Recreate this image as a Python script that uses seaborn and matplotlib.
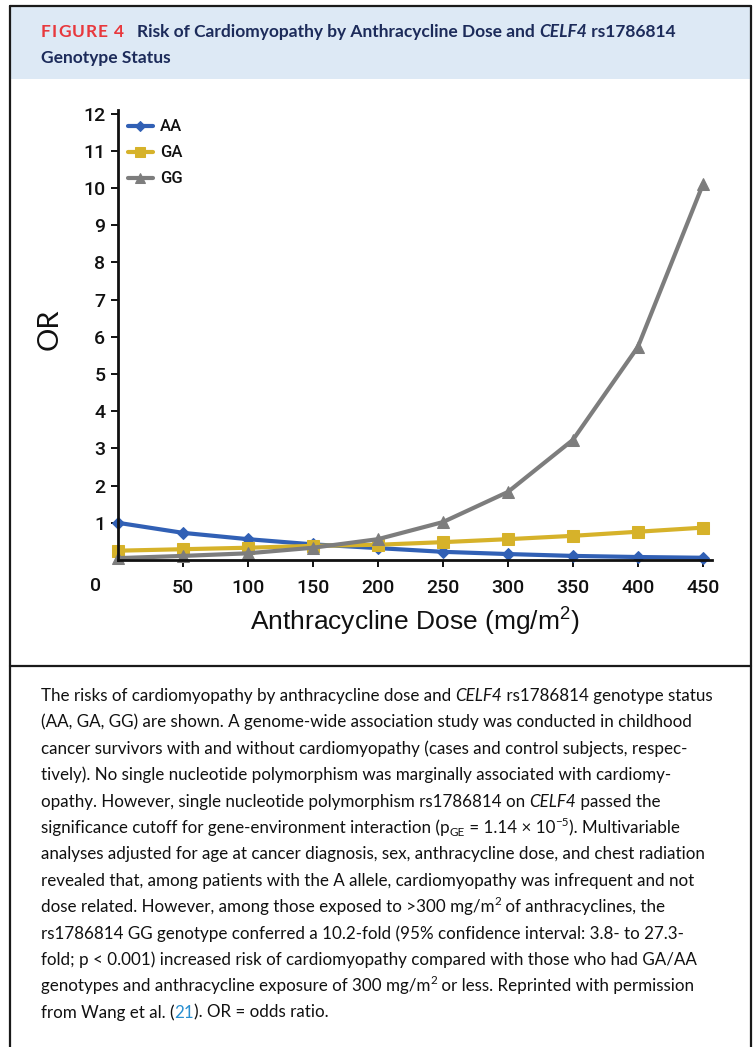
import numpy as np
import pandas as pd
import matplotlib
matplotlib.use("Agg")
import matplotlib.pyplot as plt
from matplotlib import font_manager as fm
from matplotlib.patches import Rectangle
from matplotlib.lines import Line2D
import seaborn as sns

# ---------------- data ----------------
dose = [0, 50, 100, 150, 200, 250, 300, 350, 400, 450]
or_AA = [1.00, 0.73, 0.56, 0.42, 0.32, 0.22, 0.16, 0.11, 0.08, 0.06]
or_GA = [0.25, 0.29, 0.33, 0.38, 0.41, 0.48, 0.56, 0.65, 0.76, 0.87]
or_GG = [0.05, 0.11, 0.18, 0.33, 0.56, 1.02, 1.83, 3.23, 5.73, 10.10]
genotypes = ["AA", "GA", "GG"]
x_ticks = [50, 100, 150, 200, 250, 300, 350, 400, 450]
y_ticks = [1, 2, 3, 4, 5, 6, 7, 8, 9, 10, 11, 12]

fig_label = "FIGURE 4"
title_parts = [("Risk of Cardiomyopathy by Anthracycline Dose and ", "b"),
               ("CELF4", "bi"), (" rs1786814", "b")]
title_line2 = [("Genotype Status", "b")]

caption = [
    [("The risks of cardiomyopathy by anthracycline dose and ", "n"), ("CELF4", "i"), (" rs1786814 genotype status", "n")],
    [("(AA, GA, GG) are shown. A genome-wide association study was conducted in childhood", "n")],
    [("cancer survivors with and without cardiomyopathy (cases and control subjects, respec-", "n")],
    [("tively). No single nucleotide polymorphism was marginally associated with cardiomy-", "n")],
    [("opathy. However, single nucleotide polymorphism rs1786814 on ", "n"), ("CELF4", "i"), (" passed the", "n")],
    [("significance cutoff for gene-environment interaction (p", "n"), ("GE", "sub"), (" = 1.14 \u00d7 10", "n"), ("\u22125", "sup"), ("). Multivariable", "n")],
    [("analyses adjusted for age at cancer diagnosis, sex, anthracycline dose, and chest radiation", "n")],
    [("revealed that, among patients with the A allele, cardiomyopathy was infrequent and not", "n")],
    [("dose related. However, among those exposed to >300 mg/m", "n"), ("2", "sup"), (" of anthracyclines, the", "n")],
    [("rs1786814 GG genotype conferred a 10.2-fold (95% confidence interval: 3.8- to 27.3-", "n")],
    [("fold; p < 0.001) increased risk of cardiomyopathy compared with those who had GA/AA", "n")],
    [("genotypes and anthracycline exposure of 300 mg/m", "n"), ("2", "sup"), (" or less. Reprinted with permission", "n")],
    [("from Wang et al. (", "n"), ("21", "link"), ("). OR = odds ratio.", "n")],
]

# ---------------- fonts ----------------
def has_font(name):
    try:
        fm.findfont(fm.FontProperties(family=name), fallback_to_default=False)
        return True
    except Exception:
        return False

if has_font("Liberation Sans Narrow"):
    NARROW = "Liberation Sans Narrow"
elif has_font("Lato"):
    NARROW = "Lato"
else:
    NARROW = "Liberation Sans"
SANS = "Liberation Sans"
TICKFONT = "Roboto" if has_font("Roboto") else SANS

sns.set_theme(style="ticks")
plt.rcParams["font.family"] = [SANS, "DejaVu Sans"]
plt.rcParams["mathtext.fontset"] = "custom"
plt.rcParams["mathtext.rm"] = SANS
plt.rcParams["mathtext.it"] = SANS + ":italic"

W, H = 755, 1047
fig = plt.figure(figsize=(W / 100, H / 100), dpi=100)
fig.patch.set_facecolor("white")

def fx(px):
    return px / W

def fy(py):
    return 1 - py / H

# ---------------- frame and header ----------------
fig.patches.append(Rectangle((fx(10), fy(79)), fx(751) - fx(10), fy(6) - fy(79),
                             transform=fig.transFigure, facecolor="#dde9f5", edgecolor="none", zorder=0))
frame_kw = dict(transform=fig.transFigure, color="#1a1a1a", lw=1.6, zorder=5)
fig.lines.append(Line2D([fx(10), fx(10)], [fy(6), fy(1047)], **frame_kw))
fig.lines.append(Line2D([fx(751), fx(751)], [fy(6), fy(1047)], **frame_kw))
fig.lines.append(Line2D([fx(10), fx(751)], [fy(6), fy(6)], **frame_kw))
fig.lines.append(Line2D([fx(10), fx(751)], [fy(666), fy(666)], **frame_kw))

renderer = fig.canvas.get_renderer()

def seg_width(text, **kw):
    t1 = fig.text(0, 0, "X" + text + "X", **kw)
    t2 = fig.text(0, 0, "XX", **kw)
    w = t1.get_window_extent(renderer).width - t2.get_window_extent(renderer).width
    t1.remove(); t2.remove()
    return w

def seg_style(kind, size, family, base_color):
    kw = dict(fontsize=size, family=family, color=base_color, fontweight="normal", fontstyle="normal")
    dy = 0.0
    if kind == "i":
        kw["fontstyle"] = "italic"
    elif kind == "b":
        kw["fontweight"] = "bold"
    elif kind == "bi":
        kw["fontweight"] = "bold"; kw["fontstyle"] = "italic"
    elif kind == "fig":
        kw["fontweight"] = "bold"; kw["color"] = "#e8383d"
    elif kind == "sup":
        kw["fontsize"] = size * 0.68; dy = -size * 100 / 72 * 0.42
    elif kind == "sub":
        kw["fontsize"] = size * 0.68; dy = size * 100 / 72 * 0.18
    elif kind == "link":
        kw["color"] = "#2a8fd0"
    return kw, dy

def draw_line(x0, baseline, segs, size, family, base_color):
    x = x0
    for text, kind in segs:
        kw, dy = seg_style(kind, size, family, base_color)
        fig.text(fx(x), fy(baseline + dy), text, va="baseline", ha="left", **kw)
        x += seg_width(text, **kw)
    return x

def line_width(segs, size, family, base_color):
    total = 0
    for text, kind in segs:
        kw, _ = seg_style(kind, size, family, base_color)
        total += seg_width(text, **kw)
    return total

# title
NAVY = "#1c2b5a"
tsize = 12.5
w_title = line_width(title_parts, tsize, NARROW, NAVY)
tsize = tsize * (678 - 137) / w_title
kwf, _ = seg_style("fig", tsize, NARROW, NAVY)
raw = sum(seg_width(c, **kwf) for c in fig_label)
track = (124 - 41 - raw) / (len(fig_label) - 1)
xx = 41
for c in fig_label:
    fig.text(fx(xx), fy(37), c, va="baseline", ha="left", **kwf)
    xx += seg_width(c, **kwf) + track
draw_line(137, 37, title_parts, tsize, NARROW, NAVY)
draw_line(41, 63, title_line2, tsize, NARROW, NAVY)

# caption
csize = 12.0
wmax = max(line_width(segs, csize, NARROW, "#111111") for segs in caption)
csize = csize * (713 - 41) / wmax
for i, segs in enumerate(caption):
    draw_line(41, 701 + 26.4 * i, segs, csize, NARROW, "#111111")

# ---------------- chart ----------------
ax = fig.add_axes([fx(118), fy(560), fx(712) - fx(118), fy(110) - fy(560)])
df = pd.DataFrame({
    "dose": dose * 3,
    "OR": or_AA + or_GA + or_GG,
    "genotype": [g for g in genotypes for _ in dose],
})
palette = {"AA": "#3160b5", "GA": "#d6b22a", "GG": "#7d7d7d"}
markers = {"AA": "D", "GA": "s", "GG": "^"}
sns.lineplot(data=df, x="dose", y="OR", hue="genotype", style="genotype",
             palette=palette, markers=markers, dashes=False, errorbar=None,
             linewidth=3.0, markersize=8.5, ax=ax)
for ln in ax.lines:
    ln.set_markeredgecolor(ln.get_color())
    ln.set_clip_on(False)
    if ln.get_marker() == "D":
        ln.set_markersize(6.5)

ax.set_xlim(0, 457)
ax.set_ylim(0, 12.1)
ax.set_xticks(x_ticks)
ax.set_yticks(y_ticks)
ax.tick_params(axis="both", direction="out", length=5, width=1.4, color="#111111",
               labelsize=14, labelcolor="#111111")
ax.tick_params(axis="y", pad=4)
ax.tick_params(axis="x", pad=9)
for lab in ax.get_xticklabels() + ax.get_yticklabels():
    lab.set_family(TICKFONT)
    lab.set_fontweight("medium")
for sp in ["left", "bottom"]:
    ax.spines[sp].set_linewidth(2.0)
    ax.spines[sp].set_color("#111111")
sns.despine(ax=ax)
ax.set_xlabel("Anthracycline Dose (mg/m$^2$)", fontsize=19, color="#111111", labelpad=6)
ax.set_ylabel("OR", fontsize=21, family=NARROW, color="#111111")
ax.yaxis.set_label_coords(-0.094, 0.513)
fig.text(fx(96), fy(586), "0", fontsize=14, color="#111111", ha="center", va="center",
         family=TICKFONT, fontweight="medium")

old = ax.get_legend()
handles = old.legend_handles
labels = [tt.get_text() for tt in old.get_texts()]
old.remove()
for h in handles:
    h.set_linewidth(3.0)
    h.set_markeredgecolor(h.get_color())
    h.set_markersize(5.0 if h.get_marker() == "D" else 6.5)
leg = ax.legend(handles, labels, loc="upper left", bbox_to_anchor=(0.005, 0.994),
                frameon=False, prop=dict(family=TICKFONT, weight="medium", size=12),
                handlelength=1.5, handletextpad=0.45,
                labelspacing=0.66, borderaxespad=0.0)
for tt in leg.get_texts():
    tt.set_color("#111111")

fig.savefig("out.png", dpi=100)
